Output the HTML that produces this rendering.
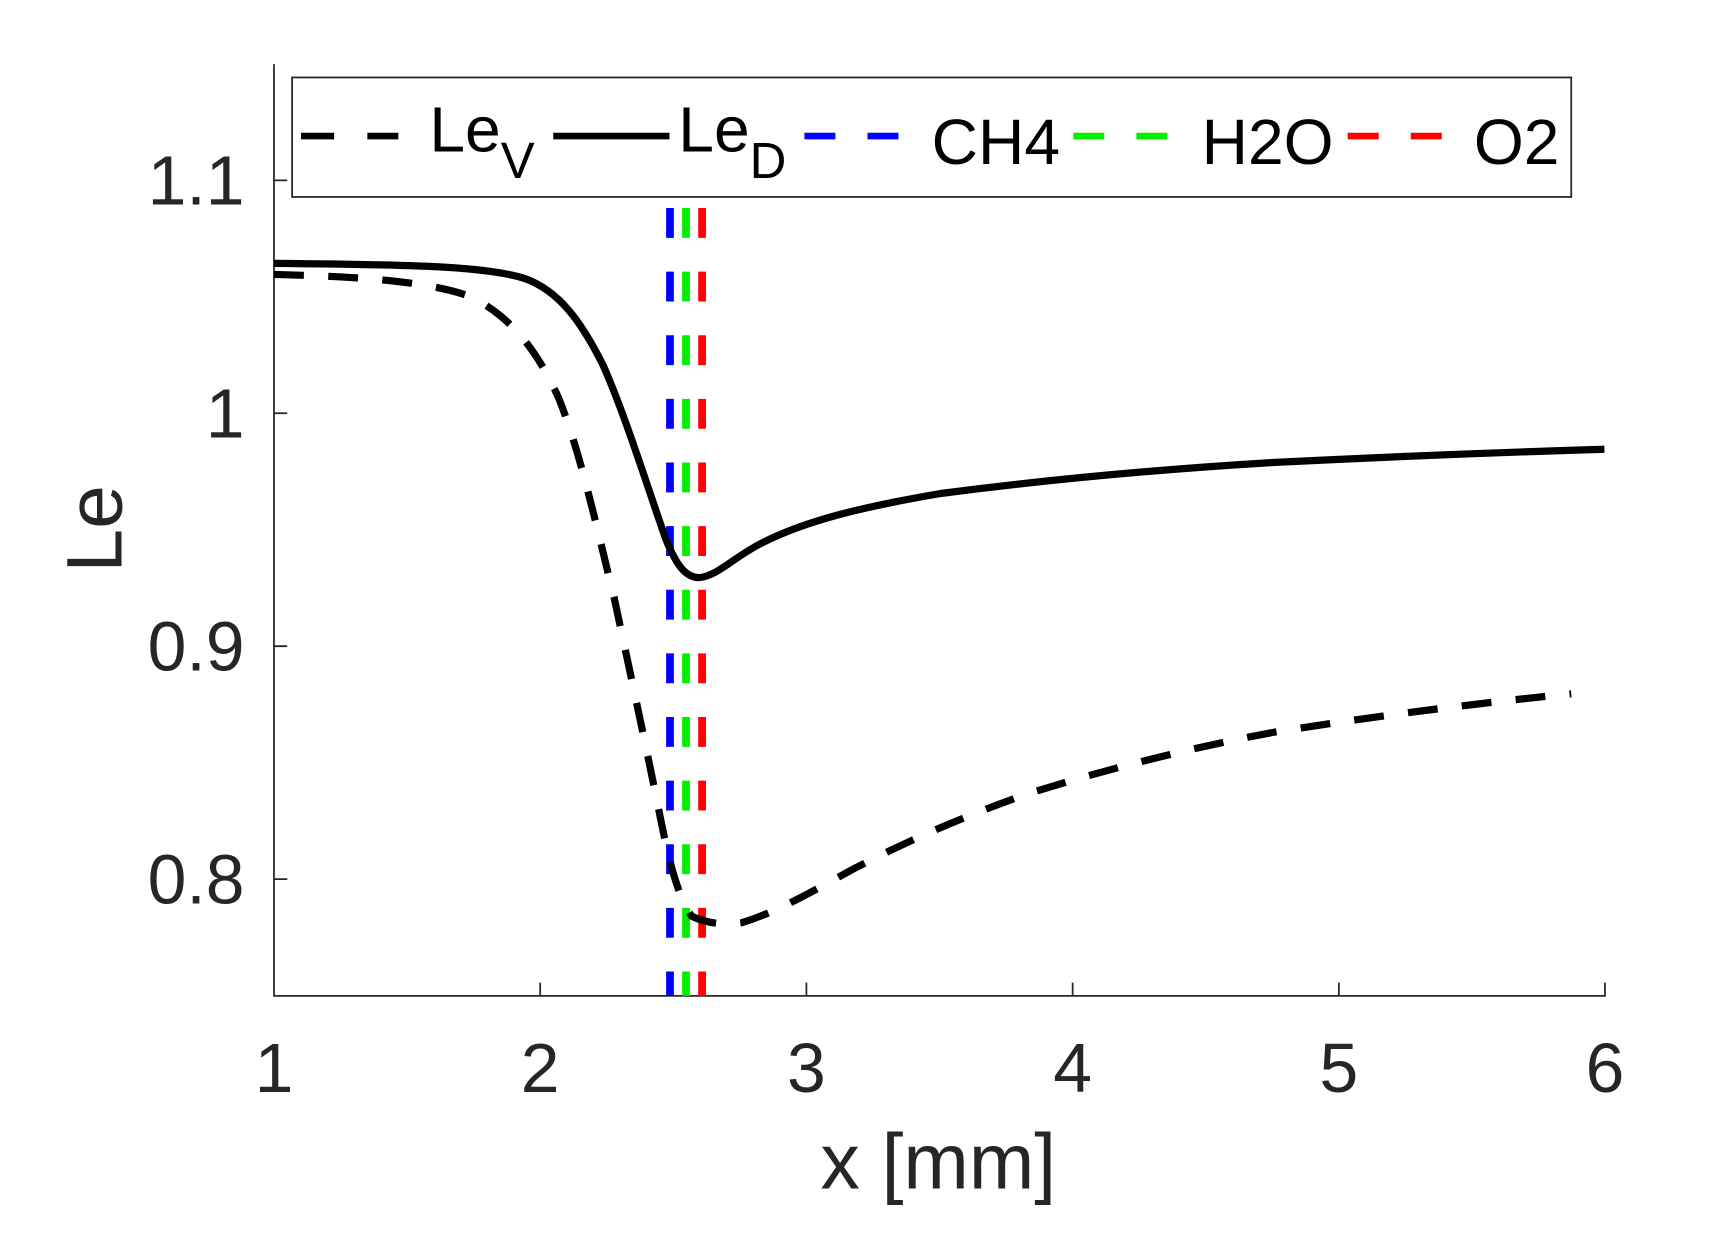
<!DOCTYPE html>
<html><head><meta charset="utf-8"><style>html,body{margin:0;padding:0;background:#fff}svg{display:block}</style></head><body>
<svg width="1736" height="1260" viewBox="0 0 1736 1260" xmlns="http://www.w3.org/2000/svg" font-family="Liberation Sans, Arial, sans-serif">
<rect width="1736" height="1260" fill="#fff"/>
<g transform="scale(1.1065)">
<g stroke="#262626" stroke-width="1.6" fill="none">
<path d="M247.6,58 V900 H1450.5 V888"/>
<path d="M488.2,900 v-12 M728.8,900 v-12 M969.4,900 v-12 M1210,900 v-12"/>
<path d="M247.6,163 h12 M247.6,373.5 h12 M247.6,584 h12 M247.6,794.5 h12"/>
</g>
<g fill="#262626" font-size="63">
<text x="247.6" y="987" text-anchor="middle">1</text>
<text x="488.2" y="987" text-anchor="middle">2</text>
<text x="728.8" y="987" text-anchor="middle">3</text>
<text x="969.4" y="987" text-anchor="middle">4</text>
<text x="1210" y="987" text-anchor="middle">5</text>
<text x="1450.5" y="987" text-anchor="middle">6</text>
<text x="221" y="185" text-anchor="end">1.1</text>
<text x="221" y="395.5" text-anchor="end">1</text>
<text x="221" y="606" text-anchor="end">0.9</text>
<text x="221" y="816.5" text-anchor="end">0.8</text>
<text x="848" y="1074" text-anchor="middle" font-size="71">x [mm]</text>
<text transform="translate(110,478) rotate(-90)" text-anchor="middle" font-size="71">Le</text>
</g>
<g stroke-width="7" stroke-dasharray="27,30.5" fill="none">
<path d="M605.5,188 V900" stroke="#0000ff"/>
<path d="M620,188 V900" stroke="#00ee00"/>
<path d="M634.5,188 V900" stroke="#ff0000"/>
</g>
<path fill="none" stroke="#000" stroke-width="6.5" stroke-linejoin="round" d="M247.6,238 C360,239 440,240 475,252 C505,263 525,290 545,330 C565,375 585,440 602,488 C612,512 620,522 632,522 C648,521 665,502 690,490 C730,470 780,458 850,446 C950,433 1050,424 1150,418 C1250,413 1350,409 1450,406"/>
<path fill="none" stroke="#000" stroke-width="6.5" stroke-dasharray="27,22" d="M247.6,248 C330,250 390,255 425,268 C460,285 485,315 505,360 C525,410 540,480 555,540 C570,610 585,680 597,740 C605,780 612,808 625,828 C640,835 655,836 670,834 C700,825 730,808 770,786 C820,760 870,738 930,717 C1000,695 1080,675 1150,662 C1250,646 1340,635 1420,627"/>
<rect x="264" y="70" width="1156" height="108" fill="#fff" stroke="#262626" stroke-width="1.6"/>
<path d="M272,123 H360" stroke="#000" stroke-width="6" stroke-dasharray="30,30"/>
<path d="M500,123 H605" stroke="#000" stroke-width="6"/>
<path d="M727,123 H812" stroke="#0000ff" stroke-width="6" stroke-dasharray="28,29"/>
<path d="M970,123 H1055" stroke="#00ee00" stroke-width="6" stroke-dasharray="28,29"/>
<path d="M1218,123 H1303" stroke="#ff0000" stroke-width="6" stroke-dasharray="28,29"/>
<g fill="#000" font-size="58">
<text x="388" y="137">Le<tspan font-size="46" dy="24">V</tspan></text>
<text x="613" y="137">Le<tspan font-size="46" dy="24">D</tspan></text>
<text x="842" y="148">CH4</text>
<text x="1086" y="148">H2O</text>
<text x="1332" y="148">O2</text>
</g>
</g>
</svg>
</body></html>
